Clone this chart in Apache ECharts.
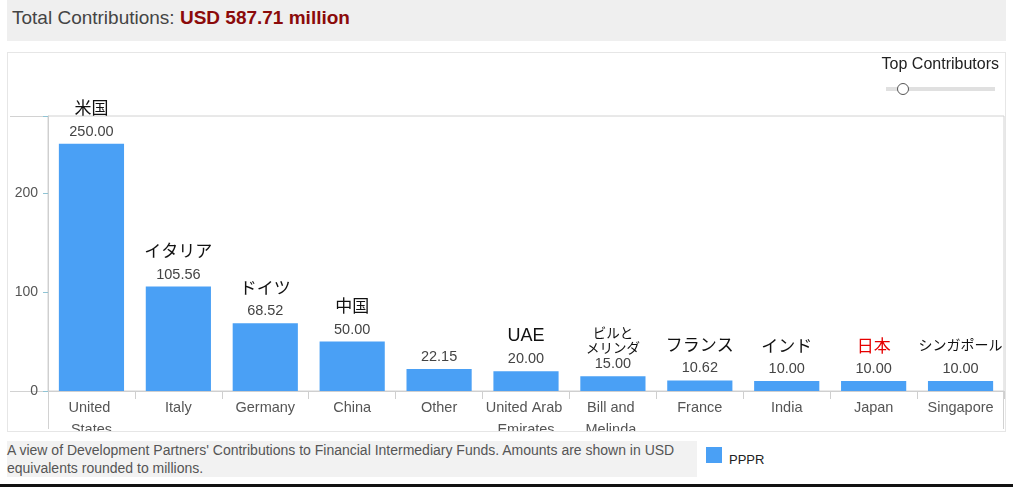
<!DOCTYPE html>
<html>
<head>
<meta charset="utf-8">
<script src="https://cdn.jsdelivr.net/npm/echarts@6/dist/echarts.min.js"></script>
<style>
body { margin: 0; background: #fff; font-family: "Liberation Sans", Arial, "Noto Sans CJK JP", sans-serif; width: 1013px; height: 487px; position: relative; overflow: hidden; }
#head { position: absolute; left: 7px; top: 0; width: 999px; height: 41px; background: #efefef; }
#head span { position: absolute; left: 5px; top: 7px; font-size: 19px; color: #444; white-space: nowrap; }
#head b { color: #8b0a0a; }
#box { position: absolute; left: 7px; top: 52px; width: 999px; height: 380px; box-sizing: border-box; border: 1px solid #e6e6e6; }
#main { position: absolute; left: 0; top: 0; width: 997px; height: 378px; }
#slider { position: absolute; left: 850px; top: 1px; width: 141px; height: 40px; }
#slider .t { position: absolute; right: 0; top: 1px; font-size: 16px; color: #222; white-space: nowrap; }
#slider .track { position: absolute; left: 28px; top: 33px; width: 109px; height: 4px; background: #e0e0e0; }
#slider .knob { position: absolute; left: 39px; top: 29px; width: 10px; height: 10px; border-radius: 50%; background: #fff; border: 1px solid #555; }
#note { position: absolute; left: 7px; top: 441px; width: 690px; height: 36px; background: #f2f2f2; font-size: 14px; color: #555; line-height: 18px; }
#legend { position: absolute; left: 706px; top: 447px; }
#legend .sw { position: absolute; left: 0; top: 0; width: 16px; height: 16px; background: #4aa0f5; }
#legend .lb { position: absolute; left: 23px; top: 5px; font-size: 13px; color: #222; }
#bottom { position: absolute; left: 0; top: 484px; width: 1013px; height: 3px; background: #111; }
</style>
</head>
<body>
<div id="head"><span>Total Contributions: <b>USD 587.71 million</b></span></div>
<div id="box">
  <div id="main"></div>
  <div id="slider"><div class="t">Top Contributors</div><div class="track"></div><div class="knob"></div></div>
</div>
<div id="note">A view of Development Partners' Contributions to Financial Intermediary Funds. Amounts are shown in USD equivalents rounded to millions.</div>
<div id="legend"><div class="sw"></div><div class="lb">PPPR</div></div>
<div id="bottom"></div>
<script>
// カテゴリ（英語名）
var categories = ['United States', 'Italy', 'Germany', 'China', 'Other', 'United Arab Emirates',
	'Bill and Melinda Gates Foundation', 'France', 'India', 'Japan', 'Singapore'];
// 棒の上に出す日本語名
var jpNames = ['米国', 'イタリア', 'ドイツ', '中国', '', 'UAE', 'ビルと\nメリンダ', 'フランス', 'インド', '日本', 'シンガポール'];
// PPPR 拠出額（百万USD）
var pppr = [250.00, 105.56, 68.52, 50.00, 22.15, 20.00, 15.00, 10.62, 10.00, 10.00, 10.00];
var yTicks = [0, 100, 200];

var barColor = '#4aa0f5';
var jpFont = '"Noto Sans CJK JP", sans-serif';
var myChart = echarts.init(document.getElementById('main'));

// 日本語名のスタイルを選ぶ
function nameStyle(name) {
	if (name == '日本') return 'red';
	if (/^[A-Z]+$/.test(name)) return 'latin';
	if (name.indexOf('\n') >= 0) return 'two';
	if (name.length > 4) return 'small';
	return 'big';
}

myChart.setOption({
	animation: false,
	textStyle: { fontFamily: '"Liberation Sans", Arial, "Noto Sans CJK JP", sans-serif' },
	grid: {
		left: 40, top: 63, right: 1, bottom: 40,
		outerBoundsMode: 'none',
		show: true, borderColor: '#d2d2d2', borderWidth: 1
	},
	xAxis: {
		type: 'category',
		data: categories,
		axisLine: { lineStyle: { color: '#cfcfcf' } },
		axisTick: { show: true, length: 8, lineStyle: { color: '#cfcfcf' } },
		axisLabel: {
			interval: 0, fontSize: 14.5, color: '#555', margin: 6,
			lineHeight: 22, width: 84, overflow: 'break'
		}
	},
	yAxis: {
		type: 'value',
		min: 0, max: 278, interval: 100,
		axisLine: { show: true, lineStyle: { color: '#cfcfcf' } },
		axisTick: { show: true, length: 5, lineStyle: { color: '#8fc3d3' } },
		axisLabel: {
			fontSize: 14, color: '#555', margin: 10,
			formatter: function(v) { return yTicks.indexOf(v) >= 0 ? v : ''; }
		},
		splitLine: { show: false }
	},
	graphic: [
		// 枠線の延長部分
		{ type: 'line', shape: { x1: 2, y1: 63.5, x2: 40, y2: 63.5 }, style: { stroke: '#d2d2d2', lineWidth: 1 } },
		{ type: 'line', shape: { x1: 2, y1: 338.5, x2: 40, y2: 338.5 }, style: { stroke: '#d2d2d2', lineWidth: 1 } },
		{ type: 'line', shape: { x1: 40.5, y1: 338, x2: 40.5, y2: 376 }, style: { stroke: '#d2d2d2', lineWidth: 1 } },
		{ type: 'line', shape: { x1: 995.5, y1: 338, x2: 995.5, y2: 376 }, style: { stroke: '#d2d2d2', lineWidth: 1 } }
	],
	series: [{
		name: 'PPPR',
		type: 'bar',
		data: pppr,
		barWidth: '75%',
		itemStyle: { color: barColor },
		label: {
			show: true,
			position: 'top',
			distance: 3,
			formatter: function(p) {
				var jp = jpNames[p.dataIndex];
				var s = '';
				if (jp != '') s = '{' + nameStyle(jp) + '|' + jp + '}\n';
				return s + '{v|' + p.value.toFixed(2) + '}';
			},
			rich: {
				v: { fontSize: 14.5, color: '#444', lineHeight: 18 },
				big: { fontSize: 17, color: '#111', lineHeight: 30, fontFamily: jpFont },
				red: { fontSize: 17, color: '#e60000', lineHeight: 30, fontFamily: jpFont },
				latin: { fontSize: 18, color: '#111', lineHeight: 28 },
				small: { fontSize: 14, color: '#111', lineHeight: 30, fontFamily: jpFont },
				two: { fontSize: 13.5, color: '#111', lineHeight: 15, fontFamily: jpFont }
			}
		}
	}]
});
</script>
</body>
</html>
